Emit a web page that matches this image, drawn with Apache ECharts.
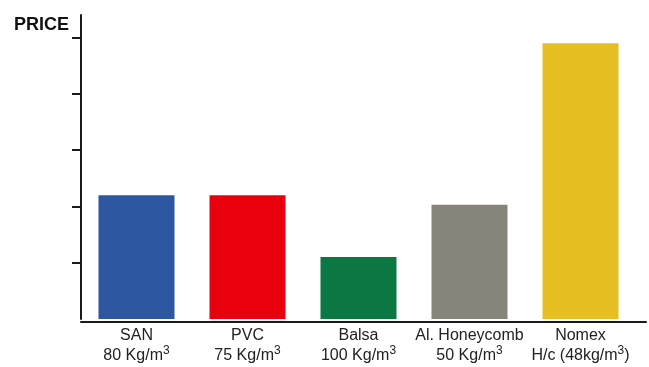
<!DOCTYPE html>
<html>
<head>
<meta charset="utf-8">
<script src="https://cdn.jsdelivr.net/npm/echarts@6/dist/echarts.min.js"></script>
<style>
  html, body { margin: 0; padding: 0; background: #ffffff; }
  #chart { width: 649px; height: 367px; }
</style>
</head>
<body>
<div id="chart"></div>
<script>
// Core materials and their relative price
const materials = ['SAN', 'PVC', 'Balsa', 'Al. Honeycomb', 'Nomex'];
const densityText = ['80 Kg/m', '75 Kg/m', '100 Kg/m', '50 Kg/m', 'H/c (48kg/m'];
const densityTail = ['', '', '', '', ')'];
const prices = [2.2, 2.2, 1.1, 2.03, 4.9];
const barColors = ['#2d57a1', '#e8000c', '#0b7743', '#87857a', '#e6bf22'];
const priceTicks = [1, 2, 3, 4, 5];

const chart = echarts.init(document.getElementById('chart'), null, { renderer: 'canvas' });

const labelFont = '"Liberation Sans Narrow", "Arial Narrow", "Liberation Sans", sans-serif';

chart.setOption({
  animation: false,
  backgroundColor: '#ffffff',
  title: {
    text: 'PRICE',
    left: 9,
    top: 11,
    textStyle: {
      fontFamily: '"Liberation Sans", Arial, sans-serif',
      fontWeight: 'bold',
      fontSize: 18,
      color: '#111111'
    }
  },
  grid: [
    { left: 81, top: 15, bottom: 45, width: 555, containLabel: false },
    { left: 81, top: 15, bottom: 45, right: 3, containLabel: false }
  ],
  xAxis: [
    {
      type: 'category',
      gridIndex: 0,
      data: materials,
      axisLine: { show: false },
      axisTick: { show: false },
      axisLabel: {
        interval: 0,
        margin: 7,
        formatter: function (value, idx) {
          return '{t|' + value + '}\n{t|' + densityText[idx] + '}{s|3}{t|' + densityTail[idx] + '}';
        },
        rich: {
          t: { fontFamily: labelFont, fontSize: 16, color: '#222222', lineHeight: 20 },
          s: { fontFamily: labelFont, fontSize: 12, color: '#222222', lineHeight: 20, padding: [0, 0, 10, 0] }
        }
      }
    },
    {
      type: 'value',
      gridIndex: 1,
      min: 0,
      max: 1,
      axisLine: { show: true, onZero: false, lineStyle: { color: '#1a1a1a', width: 2 } },
      axisTick: { show: false },
      axisLabel: { show: false },
      splitLine: { show: false }
    }
  ],
  yAxis: [
    {
      type: 'value',
      gridIndex: 0,
      min: 0,
      max: 5.4,
      interval: 1,
      axisLine: { show: true, lineStyle: { color: '#1a1a1a', width: 2 } },
      axisTick: {
        show: true,
        length: 9,
        customValues: priceTicks,
        lineStyle: { color: '#1a1a1a', width: 2 }
      },
      axisLabel: { show: false },
      splitLine: { show: false }
    },
    {
      type: 'value',
      gridIndex: 1,
      show: false,
      min: 0,
      max: 1
    }
  ],
  series: [
    {
      type: 'bar',
      xAxisIndex: 0,
      yAxisIndex: 0,
      barWidth: 76,
      data: prices.map(function (v, i) {
        return { value: v, itemStyle: { color: barColors[i] } };
      })
    }
  ]
});
</script>
</body>
</html>
